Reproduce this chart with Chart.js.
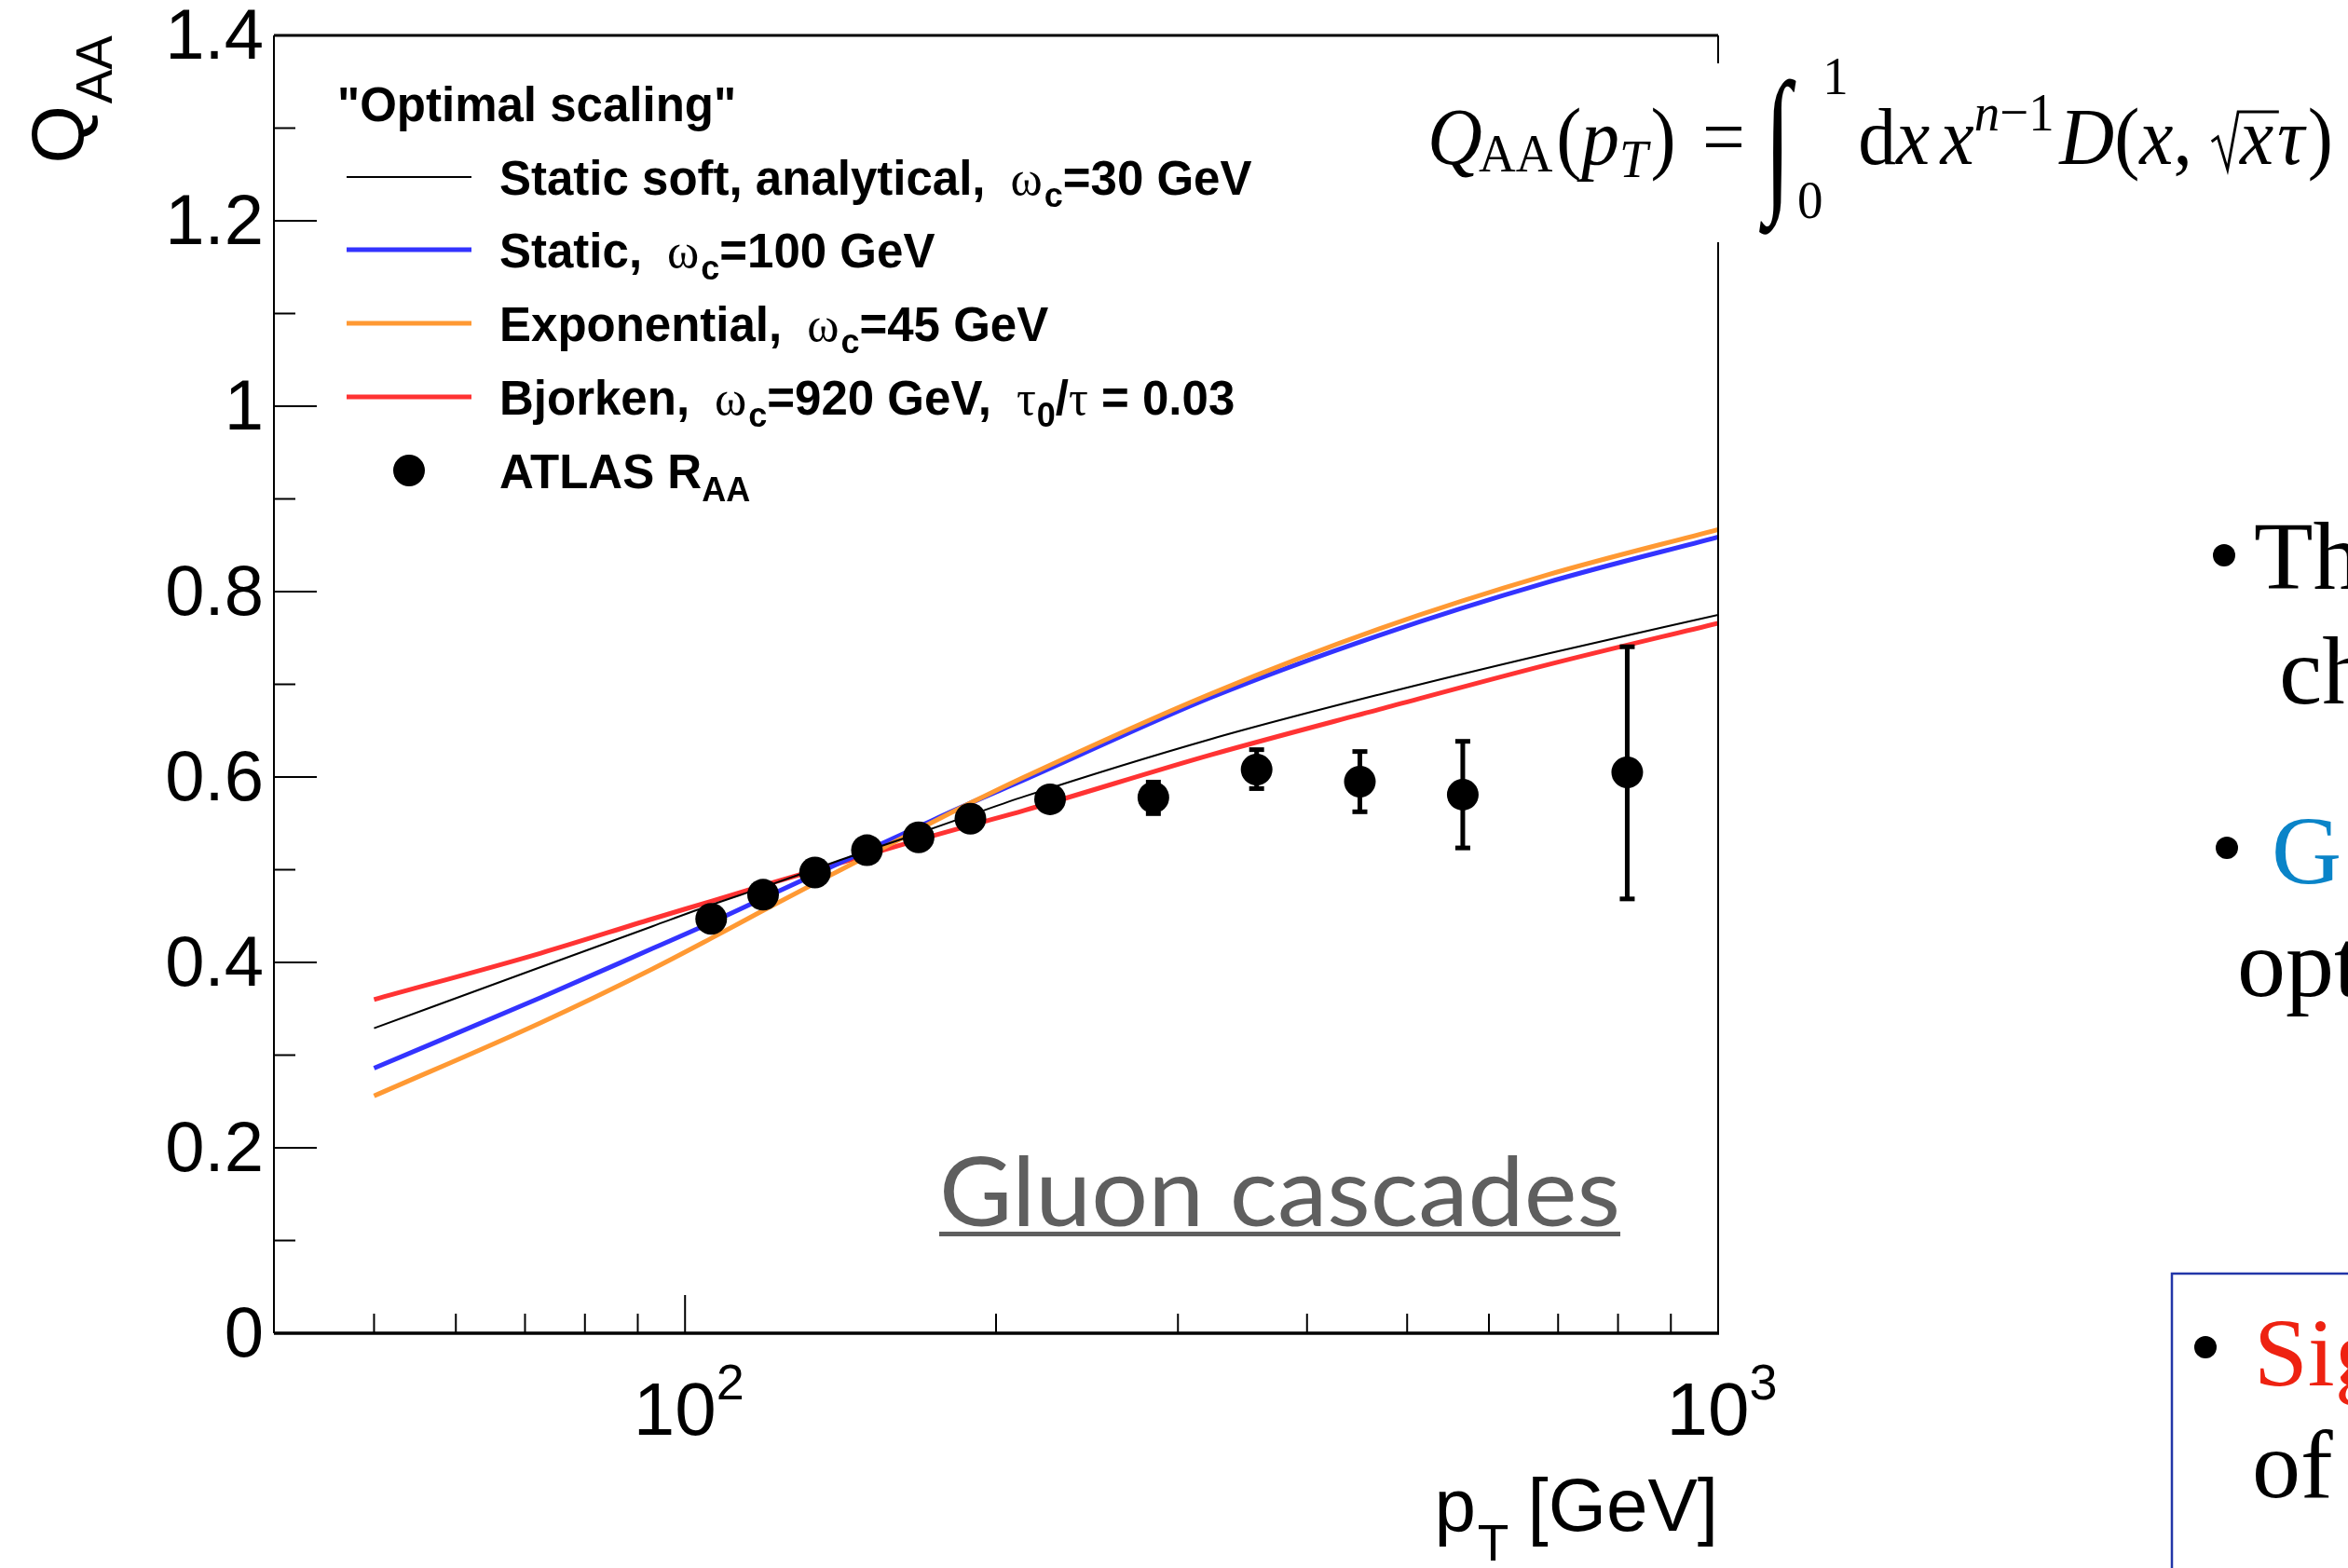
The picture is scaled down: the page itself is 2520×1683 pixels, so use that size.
<!DOCTYPE html>
<html>
<head>
<meta charset="utf-8">
<script src="https://cdn.jsdelivr.net/npm/chart.js@4.4.0/dist/chart.umd.min.js"></script>
<style>
  html, body { margin: 0; padding: 0; background: #fff; }
  #wrap { width: 2520px; height: 1683px; position: relative; overflow: hidden; }
</style>
</head>
<body>
<div id="wrap"><canvas id="qaa" width="2520" height="1683"></canvas></div>
<script>
// model curves (pT in GeV)
const curvePt = [50, 72.5, 93, 106, 119, 141, 168, 189, 213, 323, 470, 683, 1000];
const staticSoft  = [0.329, 0.395, 0.439, 0.462, 0.481, 0.510, 0.539, 0.559, 0.579, 0.641, 0.689, 0.733, 0.775];
const staticQ     = [0.286, 0.362, 0.415, 0.443, 0.469, 0.507, 0.546, 0.572, 0.597, 0.686, 0.753, 0.810, 0.859];
const exponential = [0.256, 0.335, 0.393, 0.426, 0.456, 0.499, 0.543, 0.572, 0.600, 0.690, 0.760, 0.818, 0.867];
const bjorken     = [0.360, 0.410, 0.447, 0.466, 0.483, 0.507, 0.532, 0.548, 0.564, 0.624, 0.673, 0.721, 0.766];

// ATLAS R_AA points
const atlasPt   = [106, 119, 133.6, 150, 168.3, 188.9, 225.6, 284, 357.5, 450, 566, 816.6];
const atlasRaa  = [0.447, 0.473, 0.497, 0.521, 0.535, 0.555, 0.576, 0.578, 0.608, 0.595, 0.581, 0.605];
const atlasErrUp   = [0.008, 0.008, 0.008, 0.008, 0.008, 0.008, 0.010, 0.017, 0.022, 0.033, 0.058, 0.136];
const atlasErrDown = [0.008, 0.008, 0.008, 0.008, 0.008, 0.008, 0.010, 0.018, 0.021, 0.033, 0.058, 0.137];

// axis ticks
const yMajor = [0, 0.2, 0.4, 0.6, 0.8, 1, 1.2, 1.4];
const yMinor = [0.1, 0.3, 0.5, 0.7, 0.9, 1.1, 1.3];
const yLabels = ['0', '0.2', '0.4', '0.6', '0.8', '1', '1.2', '1.4'];
const xMajor = [100, 1000];
const xExp = ['2', '3'];
const xMinor = [50, 60, 70, 80, 90, 200, 300, 400, 500, 600, 700, 800, 900];

const toXY = (xs, ys) => xs.map((x, i) => ({ x: x, y: ys[i] }));

const SANS = "'Liberation Sans', Arial, Helvetica, sans-serif";
const SERIF = "'Liberation Serif', 'Times New Roman', serif";

function rich(ctx, x, y, parts) {
  parts.forEach(p => {
    ctx.font = p.f;
    ctx.fillText(p.t, x, y + (p.dy || 0));
    x += ctx.measureText(p.t).width + (p.gap || 0);
  });
  return x;
}

const errPlugin = {
  id: 'errbars',
  beforeDatasetDraw(chart, args) {
    if (args.index !== 4) return;
    const ctx = chart.ctx, xs = chart.scales.x, ys = chart.scales.y;
    ctx.save();
    ctx.fillStyle = '#000';
    atlasPt.forEach((pt, i) => {
      const px = xs.getPixelForValue(pt);
      const yt = ys.getPixelForValue(atlasRaa[i] + atlasErrUp[i]);
      const yb = ys.getPixelForValue(atlasRaa[i] - atlasErrDown[i]);
      ctx.fillRect(px - 2.5, yt, 5, yb - yt);
      ctx.fillRect(px - 8, yt - 2, 16, 5);
      ctx.fillRect(px - 8, yb - 3, 16, 5);
    });
    ctx.restore();
  }
};

function drawFormula(ctx) {
  const I = 'italic 86px ' + SERIF, R = '86px ' + SERIF;
  const iS = 'italic 58px ' + SERIF, rS = '58px ' + SERIF;
  const items = [
    { t: 'Q', f: I, gap: -4 }, { t: 'AA', f: rS, dy: 8, gap: 4 }, { t: '(', f: R }, { t: 'p', f: I },
    { t: 'T', f: iS, dy: 14, gap: 3 }, { t: ')', f: R, gap: 30 }, { t: '=', f: R, gap: 26 },
    { kind: 'int', w: 102 }, { t: 'd', f: R }, { t: 'x', f: I, gap: 12 }, { t: 'x', f: I },
    { t: 'n', f: iS, dy: -36 }, { t: '−1', f: rS, dy: -36, gap: 6 },
    { t: 'D', f: I }, { t: '(', f: R }, { t: 'x', f: I }, { t: ',', f: R, gap: 20 },
    { kind: 'sqrt', w: 34 }, { t: 'x', f: I, gap: 4 }, { t: 'τ', f: I, gap: 4 }, { t: ')', f: R }
  ];
  let x = 0;
  items.forEach(it => {
    it.x = x;
    if (it.kind) { x += it.w; return; }
    ctx.font = it.f;
    it.w = ctx.measureText(it.t).width;
    x += it.w + (it.gap || 0);
  });
  const s = (2504 - 1532) / x;
  ctx.save();
  ctx.translate(1532, 176);
  ctx.scale(s, 1);
  ctx.fillStyle = '#000';
  ctx.strokeStyle = '#000';
  items.forEach((it, i) => {
    if (it.kind === 'int') {
      ctx.save();
      ctx.translate(it.x - 4, 30);
      ctx.scale(1, 1.55);
      ctx.font = 'italic 110px ' + SERIF;
      ctx.fillText('∫', 0, 0);
      ctx.restore();
      ctx.font = '58px ' + SERIF;
      ctx.fillText('1', it.x + 62, -75);
      ctx.fillText('0', it.x + 33, 58);
    } else if (it.kind === 'sqrt') {
      const nx = items[i + 1];
      ctx.lineWidth = 3;
      ctx.beginPath();
      ctx.moveTo(it.x + 2, -24); ctx.lineTo(it.x + 9, -29); ctx.lineTo(it.x + 20, 6);
      ctx.lineTo(it.x + 32, -56); ctx.lineTo(nx.x + nx.w + 6, -56);
      ctx.stroke();
    } else {
      ctx.font = it.f;
      ctx.fillText(it.t, it.x, it.dy || 0);
    }
  });
  ctx.restore();
}

const decor = {
  id: 'decor',
  afterDraw(chart) {
    const ctx = chart.ctx, a = chart.chartArea;
    const xs = chart.scales.x, ys = chart.scales.y;
    ctx.save();
    ctx.strokeStyle = '#000';
    ctx.fillStyle = '#000';

    // frame
    ctx.lineWidth = 3;
    ctx.beginPath(); ctx.moveTo(a.left, a.top); ctx.lineTo(a.right, a.top); ctx.stroke();
    ctx.lineWidth = 3.5;
    ctx.beginPath(); ctx.moveTo(a.left, a.bottom); ctx.lineTo(a.right + 1, a.bottom); ctx.stroke();
    ctx.lineWidth = 2;
    ctx.beginPath(); ctx.moveTo(a.left, a.top); ctx.lineTo(a.left, a.bottom); ctx.stroke();
    ctx.beginPath(); ctx.moveTo(a.right, a.top); ctx.lineTo(a.right, a.bottom); ctx.stroke();

    // y ticks (inside)
    ctx.lineWidth = 2;
    yMajor.forEach(v => {
      const y = ys.getPixelForValue(v);
      ctx.beginPath(); ctx.moveTo(a.left, y); ctx.lineTo(a.left + 46, y); ctx.stroke();
    });
    yMinor.forEach(v => {
      const y = ys.getPixelForValue(v);
      ctx.beginPath(); ctx.moveTo(a.left, y); ctx.lineTo(a.left + 23, y); ctx.stroke();
    });
    // x ticks (inside)
    xMajor.forEach(v => {
      const x = xs.getPixelForValue(v);
      ctx.beginPath(); ctx.moveTo(x, a.bottom); ctx.lineTo(x, a.bottom - 41); ctx.stroke();
    });
    xMinor.forEach(v => {
      const x = xs.getPixelForValue(v);
      ctx.beginPath(); ctx.moveTo(x, a.bottom); ctx.lineTo(x, a.bottom - 21); ctx.stroke();
    });

    // y tick labels
    ctx.font = '76px ' + SANS;
    ctx.textAlign = 'right';
    ctx.textBaseline = 'middle';
    yMajor.forEach((v, i) => {
      ctx.fillText(yLabels[i], a.left - 11, ys.getPixelForValue(v) + 4);
    });

    // x tick labels 10^n
    ctx.textAlign = 'left';
    ctx.textBaseline = 'alphabetic';
    xMajor.forEach((v, i) => {
      const x = xs.getPixelForValue(v);
      ctx.font = '80px ' + SANS;
      const w1 = ctx.measureText('10').width;
      ctx.font = '54px ' + SANS;
      const w2 = ctx.measureText(xExp[i]).width;
      const x0 = x - (w1 + w2) / 2 + 4;
      ctx.font = '80px ' + SANS;
      ctx.fillText('10', x0, 1540);
      ctx.font = '54px ' + SANS;
      ctx.fillText(xExp[i], x0 + w1, 1502);
    });

    // axis titles
    ctx.save();
    ctx.translate(90, a.top);
    ctx.rotate(-Math.PI / 2);
    ctx.textAlign = 'right';
    ctx.font = '55px ' + SANS;
    const wAA = ctx.measureText('AA').width;
    ctx.fillText('AA', 0, 30);
    ctx.font = '80px ' + SANS;
    ctx.fillText('Q', -wAA - 2, 0);
    ctx.restore();

    ctx.textAlign = 'right';
    ctx.font = '80px ' + SANS;
    const wGeV = ctx.measureText('[GeV]').width;
    ctx.fillText('[GeV]', a.right, 1643);
    ctx.font = '55px ' + SANS;
    const wT = ctx.measureText('T').width;
    ctx.fillText('T', a.right - wGeV - 20, 1675);
    ctx.font = '80px ' + SANS;
    ctx.fillText('p', a.right - wGeV - 20 - wT - 2, 1643);
    ctx.textAlign = 'left';

    // legend
    const B = 'bold 51px ' + SANS;
    const BS = 'bold 36px ' + SANS;
    const G = '52px ' + SERIF;
    rich(ctx, 362, 130, [{ t: '"Optimal scaling"', f: B }]);
    const rows = [
      { y: 190, color: '#000000', w: 2, parts: [{ t: 'Static soft, analytical,', f: B, gap: 27 }, { t: 'ω', f: G, gap: 2 }, { t: 'c', f: BS, dy: 13 }, { t: '=30 GeV', f: B }] },
      { y: 268, color: '#3333ff', w: 5, parts: [{ t: 'Static,', f: B, gap: 27 }, { t: 'ω', f: G, gap: 2 }, { t: 'c', f: BS, dy: 13 }, { t: '=100 GeV', f: B }] },
      { y: 347, color: '#ff9933', w: 5, parts: [{ t: 'Exponential,', f: B, gap: 27 }, { t: 'ω', f: G, gap: 2 }, { t: 'c', f: BS, dy: 13 }, { t: '=45 GeV', f: B }] },
      { y: 426, color: '#ff3333', w: 5, parts: [{ t: 'Bjorken,', f: B, gap: 27 }, { t: 'ω', f: G, gap: 2 }, { t: 'c', f: BS, dy: 13 }, { t: '=920 GeV,', f: B, gap: 27 }, { t: 'τ', f: G, gap: 1 }, { t: '0', f: BS, dy: 13 }, { t: '/', f: B }, { t: 'τ', f: G }, { t: ' = 0.03', f: B }] }
    ];
    rows.forEach(r => {
      ctx.strokeStyle = r.color;
      ctx.lineWidth = r.w;
      ctx.beginPath(); ctx.moveTo(372, r.y); ctx.lineTo(506, r.y); ctx.stroke();
      ctx.fillStyle = '#000';
      rich(ctx, 536, r.y + 19, r.parts);
    });
    ctx.beginPath(); ctx.arc(439, 505, 17, 0, Math.PI * 2); ctx.fill();
    rich(ctx, 536, 524, [{ t: 'ATLAS R', f: B }, { t: 'AA', f: BS, dy: 14 }]);

    // Gluon cascades label
    ctx.fillStyle = '#5f5f5f';
    ctx.font = '103px Lato, "Open Sans", sans-serif';
    const gw = ctx.measureText('Gluon cascades').width;
    ctx.save();
    ctx.translate(1008, 1316);
    ctx.scale(731 / gw, 1);
    ctx.fillText('Gluon cascades', 0, 0);
    ctx.restore();
    ctx.fillRect(1008, 1322, 731, 5);

    // formula on a white box over the frame
    ctx.fillStyle = '#fff';
    ctx.fillRect(1520, 68, 1000, 192);
    drawFormula(ctx);

    // slide text on the right
    ctx.font = '104px ' + SERIF;
    ctx.fillStyle = '#000';
    const dot = (cx, cy) => { ctx.beginPath(); ctx.arc(cx, cy, 12, 0, Math.PI * 2); ctx.fill(); };
    dot(2387, 596); ctx.fillText('The', 2419, 632);
    ctx.fillText('cho', 2446, 755);
    dot(2390, 910);
    ctx.fillStyle = '#0a84c8'; ctx.fillText('G', 2438, 948);
    ctx.fillStyle = '#000'; ctx.fillText('opt', 2401, 1069);
    ctx.strokeStyle = '#2236a8'; ctx.lineWidth = 2.5;
    ctx.strokeRect(2331, 1367, 400, 400);
    dot(2367, 1446);
    ctx.fillStyle = '#ee2211'; ctx.fillText('Sig', 2419, 1487);
    ctx.fillStyle = '#000'; ctx.fillText('of', 2417, 1607);

    ctx.restore();
  }
};

const lineDs = (label, data, color, width, order) => ({
  label: label,
  data: toXY(curvePt, data),
  borderColor: color,
  borderWidth: width,
  pointRadius: 0,
  fill: false,
  cubicInterpolationMode: 'monotone',
  order: order
});

new Chart(document.getElementById('qaa').getContext('2d'), {
  type: 'line',
  data: {
    datasets: [
      lineDs('Static soft, analytical', staticSoft, '#000000', 2, 1),
      lineDs('Static', staticQ, '#3333ff', 5, 3),
      lineDs('Exponential', exponential, '#ff9933', 5, 2),
      lineDs('Bjorken', bjorken, '#ff3333', 5, 4),
      {
        label: 'ATLAS R_AA',
        data: toXY(atlasPt, atlasRaa),
        showLine: false,
        pointRadius: 17,
        pointBackgroundColor: '#000',
        pointBorderWidth: 0,
        order: 0
      }
    ]
  },
  options: {
    responsive: false,
    animation: false,
    devicePixelRatio: 1,
    layout: { padding: { left: 294, right: 676, top: 38, bottom: 252 } },
    scales: {
      x: { type: 'logarithmic', min: 40, max: 1000, display: false },
      y: { type: 'linear', min: 0, max: 1.4, display: false }
    },
    plugins: { legend: { display: false }, tooltip: { enabled: false } }
  },
  plugins: [errPlugin, decor]
});
</script>
</body>
</html>
